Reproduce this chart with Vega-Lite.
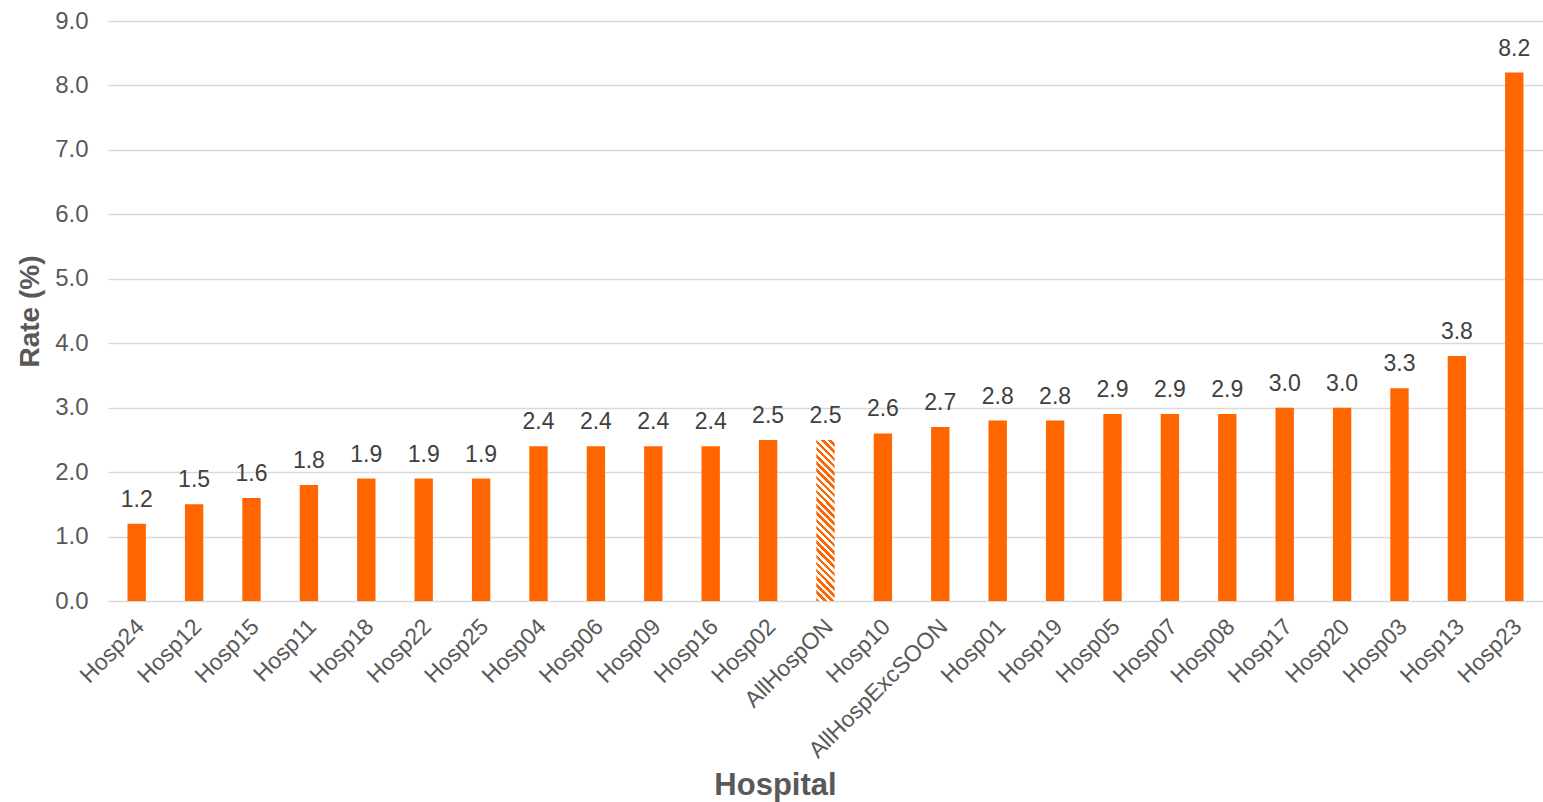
{
  "$schema": "https://vega.github.io/schema/vega-lite/v6.json",
  "width": 1435,
  "height": 580,
  "autosize": "none",
  "padding": {"left": 108, "top": 21, "right": 0, "bottom": 201},
  "config": {"view": {"stroke": null}, "font": "Liberation Sans"},
  "data": {
    "values": [
      {"Hospital": "Hosp24", "Rate": 1.2},
      {"Hospital": "Hosp12", "Rate": 1.5},
      {"Hospital": "Hosp15", "Rate": 1.6},
      {"Hospital": "Hosp11", "Rate": 1.8},
      {"Hospital": "Hosp18", "Rate": 1.9},
      {"Hospital": "Hosp22", "Rate": 1.9},
      {"Hospital": "Hosp25", "Rate": 1.9},
      {"Hospital": "Hosp04", "Rate": 2.4},
      {"Hospital": "Hosp06", "Rate": 2.4},
      {"Hospital": "Hosp09", "Rate": 2.4},
      {"Hospital": "Hosp16", "Rate": 2.4},
      {"Hospital": "Hosp02", "Rate": 2.5},
      {"Hospital": "AllHospON", "Rate": 2.5},
      {"Hospital": "Hosp10", "Rate": 2.6},
      {"Hospital": "AllHospExcSOON", "Rate": 2.7},
      {"Hospital": "Hosp01", "Rate": 2.8},
      {"Hospital": "Hosp19", "Rate": 2.8},
      {"Hospital": "Hosp05", "Rate": 2.9},
      {"Hospital": "Hosp07", "Rate": 2.9},
      {"Hospital": "Hosp08", "Rate": 2.9},
      {"Hospital": "Hosp17", "Rate": 3.0},
      {"Hospital": "Hosp20", "Rate": 3.0},
      {"Hospital": "Hosp03", "Rate": 3.3},
      {"Hospital": "Hosp13", "Rate": 3.8},
      {"Hospital": "Hosp23", "Rate": 8.2}
    ]
  },
  "encoding": {
    "x": {
      "field": "Hospital",
      "type": "nominal",
      "sort": null,
      "scale": {"paddingInner": 0.68, "paddingOuter": 0.34},
      "axis": {
        "domain": false,
        "ticks": false,
        "labelAngle": -45,
        "labelFontSize": 23,
        "labelColor": "#595959",
        "labelPadding": 14,
        "labelOffset": -4,
        "labelLimit": 0,
        "title": "Hospital",
        "titleFontSize": 31,
        "titleFontWeight": "bold",
        "titleColor": "#595959",
        "titleX": 667,
        "titleY": 193,
        "titleBaseline": "alphabetic",
        "titleAnchor": "middle"
      }
    },
    "y": {
      "field": "Rate",
      "type": "quantitative",
      "scale": {"domain": [0, 9]},
      "axis": {
        "domain": false,
        "ticks": false,
        "values": [0, 1, 2, 3, 4, 5, 6, 7, 8, 9],
        "format": ".1f",
        "labelFontSize": 24,
        "labelColor": "#595959",
        "labelPadding": 20,
        "gridColor": "#d9d9d9",
        "gridWidth": 1.5,
        "title": "Rate (%)",
        "titleFontSize": 28,
        "titleFontWeight": "bold",
        "titleColor": "#595959",
        "titlePadding": 10
      }
    }
  },
  "layer": [
    {
      "mark": {"type": "bar"},
      "encoding": {
        "color": {
          "condition": {
            "test": "datum.Hospital === 'AllHospON'",
            "value": {
              "gradient": "linear",
              "x1": 0, "y1": 1, "x2": 0.126, "y2": -0.1,
              "stops": [
                {"offset": 0, "color": "#FF6600"}, {"offset": 0.02, "color": "#FF6600"}, {"offset": 0.02, "color": "#ffffff"}, {"offset": 0.04, "color": "#ffffff"},
                {"offset": 0.04, "color": "#FF6600"}, {"offset": 0.06, "color": "#FF6600"}, {"offset": 0.06, "color": "#ffffff"}, {"offset": 0.08, "color": "#ffffff"},
                {"offset": 0.08, "color": "#FF6600"}, {"offset": 0.10, "color": "#FF6600"}, {"offset": 0.10, "color": "#ffffff"}, {"offset": 0.12, "color": "#ffffff"},
                {"offset": 0.12, "color": "#FF6600"}, {"offset": 0.14, "color": "#FF6600"}, {"offset": 0.14, "color": "#ffffff"}, {"offset": 0.16, "color": "#ffffff"},
                {"offset": 0.16, "color": "#FF6600"}, {"offset": 0.18, "color": "#FF6600"}, {"offset": 0.18, "color": "#ffffff"}, {"offset": 0.20, "color": "#ffffff"},
                {"offset": 0.20, "color": "#FF6600"}, {"offset": 0.22, "color": "#FF6600"}, {"offset": 0.22, "color": "#ffffff"}, {"offset": 0.24, "color": "#ffffff"},
                {"offset": 0.24, "color": "#FF6600"}, {"offset": 0.26, "color": "#FF6600"}, {"offset": 0.26, "color": "#ffffff"}, {"offset": 0.28, "color": "#ffffff"},
                {"offset": 0.28, "color": "#FF6600"}, {"offset": 0.30, "color": "#FF6600"}, {"offset": 0.30, "color": "#ffffff"}, {"offset": 0.32, "color": "#ffffff"},
                {"offset": 0.32, "color": "#FF6600"}, {"offset": 0.34, "color": "#FF6600"}, {"offset": 0.34, "color": "#ffffff"}, {"offset": 0.36, "color": "#ffffff"},
                {"offset": 0.36, "color": "#FF6600"}, {"offset": 0.38, "color": "#FF6600"}, {"offset": 0.38, "color": "#ffffff"}, {"offset": 0.40, "color": "#ffffff"},
                {"offset": 0.40, "color": "#FF6600"}, {"offset": 0.42, "color": "#FF6600"}, {"offset": 0.42, "color": "#ffffff"}, {"offset": 0.44, "color": "#ffffff"},
                {"offset": 0.44, "color": "#FF6600"}, {"offset": 0.46, "color": "#FF6600"}, {"offset": 0.46, "color": "#ffffff"}, {"offset": 0.48, "color": "#ffffff"},
                {"offset": 0.48, "color": "#FF6600"}, {"offset": 0.50, "color": "#FF6600"}, {"offset": 0.50, "color": "#ffffff"}, {"offset": 0.52, "color": "#ffffff"},
                {"offset": 0.52, "color": "#FF6600"}, {"offset": 0.54, "color": "#FF6600"}, {"offset": 0.54, "color": "#ffffff"}, {"offset": 0.56, "color": "#ffffff"},
                {"offset": 0.56, "color": "#FF6600"}, {"offset": 0.58, "color": "#FF6600"}, {"offset": 0.58, "color": "#ffffff"}, {"offset": 0.60, "color": "#ffffff"},
                {"offset": 0.60, "color": "#FF6600"}, {"offset": 0.62, "color": "#FF6600"}, {"offset": 0.62, "color": "#ffffff"}, {"offset": 0.64, "color": "#ffffff"},
                {"offset": 0.64, "color": "#FF6600"}, {"offset": 0.66, "color": "#FF6600"}, {"offset": 0.66, "color": "#ffffff"}, {"offset": 0.68, "color": "#ffffff"},
                {"offset": 0.68, "color": "#FF6600"}, {"offset": 0.70, "color": "#FF6600"}, {"offset": 0.70, "color": "#ffffff"}, {"offset": 0.72, "color": "#ffffff"},
                {"offset": 0.72, "color": "#FF6600"}, {"offset": 0.74, "color": "#FF6600"}, {"offset": 0.74, "color": "#ffffff"}, {"offset": 0.76, "color": "#ffffff"},
                {"offset": 0.76, "color": "#FF6600"}, {"offset": 0.78, "color": "#FF6600"}, {"offset": 0.78, "color": "#ffffff"}, {"offset": 0.80, "color": "#ffffff"},
                {"offset": 0.80, "color": "#FF6600"}, {"offset": 0.82, "color": "#FF6600"}, {"offset": 0.82, "color": "#ffffff"}, {"offset": 0.84, "color": "#ffffff"},
                {"offset": 0.84, "color": "#FF6600"}, {"offset": 0.86, "color": "#FF6600"}, {"offset": 0.86, "color": "#ffffff"}, {"offset": 0.88, "color": "#ffffff"},
                {"offset": 0.88, "color": "#FF6600"}, {"offset": 0.90, "color": "#FF6600"}, {"offset": 0.90, "color": "#ffffff"}, {"offset": 0.92, "color": "#ffffff"},
                {"offset": 0.92, "color": "#FF6600"}, {"offset": 0.94, "color": "#FF6600"}, {"offset": 0.94, "color": "#ffffff"}, {"offset": 0.96, "color": "#ffffff"},
                {"offset": 0.96, "color": "#FF6600"}, {"offset": 0.98, "color": "#FF6600"}, {"offset": 0.98, "color": "#ffffff"}, {"offset": 1, "color": "#ffffff"}
              ]
            }
          },
          "value": "#FF6600"
        }
      }
    },
    {
      "mark": {"type": "text", "baseline": "alphabetic", "dy": -17, "fontSize": 23, "color": "#404040"},
      "encoding": {"text": {"field": "Rate", "type": "quantitative", "format": ".1f"}}
    }
  ]
}
